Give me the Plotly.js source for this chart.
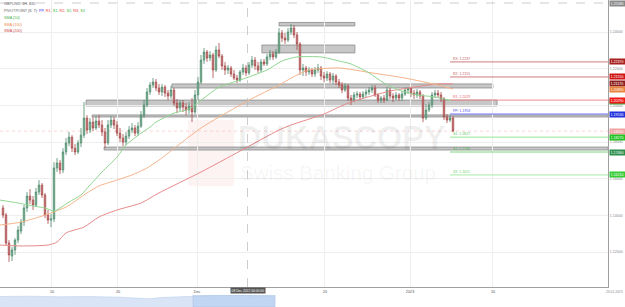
<!DOCTYPE html>
<html><head><meta charset="utf-8">
<script src="https://cdn.plot.ly/plotly-3.0.1.min.js"></script>
<style>html,body{margin:0;padding:0;background:#fff;}#c{width:625px;height:307px;}</style>
</head><body><div id="c"></div>
<script>
// ---- candle data (GBPUSD, bars) ----
const opens=[1.1441,1.1403,1.1250,1.1179,1.1212,1.1266,1.1315,1.1364,1.1441,1.1506,
1.1484,1.1457,1.1528,1.1566,1.1512,1.1403,1.1375,1.1381,1.1659,1.1686,
1.1648,1.1746,1.1795,1.1827,1.1767,1.1746,1.1795,1.1838,1.1931,1.1866,
1.1909,1.1877,1.1915,1.1893,1.1855,1.1795,1.1893,1.1920,1.1893,1.1849,
1.1822,1.1800,1.1833,1.1866,1.1877,1.1849,1.1887,1.1947,1.2002,1.2073,
1.2111,1.2127,1.2095,1.2073,1.2100,1.2067,1.2051,1.2084,1.2013,1.1986,
1.2013,1.1991,1.1975,1.1997,1.1964,1.2057,1.2127,1.2247,1.2291,1.2258,
1.2275,1.2193,1.2302,1.2269,1.2215,1.2193,1.2204,1.2171,1.2149,1.2138,
1.2182,1.2204,1.2177,1.2220,1.2247,1.2215,1.2193,1.2237,1.2226,1.2264,
1.2280,1.2264,1.2291,1.2395,1.2367,1.2356,1.2400,1.2422,1.2384,1.2335,
1.2193,1.2204,1.2182,1.2193,1.2171,1.2193,1.2204,1.2160,1.2149,1.2171,
1.2138,1.2160,1.2127,1.2111,1.2084,1.2106,1.2040,1.2029,1.2057,1.2062,
1.2046,1.2062,1.2073,1.2084,1.2095,1.2057,1.2029,1.2040,1.2029,1.2084,
1.2051,1.2040,1.2057,1.2040,1.2062,1.2084,1.2095,1.2067,1.2057,1.2073,
1.2051,1.1931,1.1975,1.2002,1.2057,1.2067,1.2057,1.2035,1.1937,1.1920,1.1931];
const highs=[1.1457,1.1414,1.1266,1.1228,1.1277,1.1343,1.1381,1.1457,1.1528,1.1544,
1.1506,1.1550,1.1593,1.1577,1.1523,1.1430,1.1408,1.1691,1.1713,1.1702,
1.1767,1.1822,1.1855,1.1838,1.1789,1.1811,1.1877,1.2018,1.1947,1.1931,
1.1937,1.1942,1.1947,1.1920,1.1877,1.1920,1.1942,1.1937,1.1915,1.1877,
1.1844,1.1855,1.1887,1.1904,1.1893,1.1909,1.1969,1.2029,1.2095,1.2127,
1.2149,1.2144,1.2117,1.2117,1.2111,1.2084,1.2106,1.2095,1.2035,1.2029,
1.2029,1.2013,1.2018,1.2040,1.2084,1.2155,1.2275,1.2313,1.2302,1.2296,
1.2286,1.2324,1.2340,1.2280,1.2237,1.2220,1.2215,1.2193,1.2166,1.2193,
1.2226,1.2220,1.2237,1.2269,1.2264,1.2237,1.2253,1.2253,1.2280,1.2302,
1.2296,1.2307,1.2422,1.2411,1.2395,1.2422,1.2444,1.2438,1.2400,1.2345,
1.2226,1.2215,1.2209,1.2204,1.2209,1.2226,1.2215,1.2182,1.2187,1.2182,
1.2177,1.2171,1.2144,1.2127,1.2122,1.2117,1.2057,1.2073,1.2078,1.2073,
1.2078,1.2089,1.2100,1.2111,1.2111,1.2067,1.2051,1.2057,1.2100,1.2095,
1.2067,1.2073,1.2067,1.2078,1.2100,1.2100,1.2100,1.2084,1.2089,1.2084,
1.2062,1.2007,1.2018,1.2073,1.2084,1.2084,1.2073,1.2046,1.1953,1.1947,1.1942];
const lows=[1.1386,1.1239,1.1147,1.1152,1.1185,1.1250,1.1299,1.1343,1.1419,1.1463,
1.1430,1.1446,1.1512,1.1495,1.1386,1.1354,1.1337,1.1364,1.1637,1.1626,
1.1631,1.1729,1.1778,1.1746,1.1729,1.1735,1.1773,1.1822,1.1844,1.1849,
1.1860,1.1866,1.1877,1.1833,1.1767,1.1784,1.1877,1.1871,1.1833,1.1800,
1.1778,1.1784,1.1817,1.1849,1.1833,1.1833,1.1877,1.1931,1.1991,1.2057,
1.2095,1.2078,1.2057,1.2051,1.2046,1.2029,1.2035,1.1997,1.1958,1.1969,
1.1964,1.1947,1.1953,1.1909,1.1953,1.2029,1.2117,1.2226,1.2237,1.2242,
1.2149,1.2182,1.2258,1.2193,1.2166,1.2171,1.2155,1.2138,1.2122,1.2127,
1.2166,1.2160,1.2166,1.2204,1.2193,1.2177,1.2182,1.2215,1.2215,1.2247,
1.2247,1.2253,1.2280,1.2345,1.2335,1.2345,1.2384,1.2367,1.2302,1.2166,
1.2160,1.2160,1.2166,1.2155,1.2155,1.2177,1.2138,1.2127,1.2133,1.2122,
1.2117,1.2111,1.2095,1.2067,1.2073,1.2024,1.2002,1.2018,1.2040,1.2029,
1.2035,1.2046,1.2057,1.2067,1.2046,1.2013,1.2013,1.2013,1.2024,1.2035,
1.2018,1.2029,1.2024,1.2024,1.2051,1.2062,1.2046,1.2035,1.2040,1.2035,
1.1909,1.1920,1.1964,1.1986,1.2040,1.2040,1.2018,1.1920,1.1904,1.1909,1.1855];
const closes=[1.1403,1.1250,1.1185,1.1212,1.1266,1.1321,1.1364,1.1441,1.1506,1.1484,
1.1457,1.1528,1.1566,1.1512,1.1403,1.1375,1.1381,1.1659,1.1686,1.1648,
1.1746,1.1795,1.1827,1.1767,1.1746,1.1795,1.1838,1.1931,1.1866,1.1909,
1.1877,1.1915,1.1893,1.1855,1.1795,1.1893,1.1920,1.1893,1.1849,1.1822,
1.1800,1.1833,1.1866,1.1877,1.1849,1.1887,1.1947,1.2002,1.2073,1.2111,
1.2127,1.2095,1.2073,1.2100,1.2067,1.2051,1.2084,1.2013,1.1986,1.2013,
1.1991,1.1975,1.1997,1.1964,1.2057,1.2127,1.2247,1.2291,1.2258,1.2275,
1.2193,1.2302,1.2269,1.2215,1.2193,1.2204,1.2171,1.2149,1.2138,1.2182,
1.2204,1.2177,1.2220,1.2247,1.2215,1.2193,1.2237,1.2226,1.2264,1.2280,
1.2264,1.2291,1.2395,1.2367,1.2356,1.2400,1.2422,1.2384,1.2335,1.2193,
1.2204,1.2182,1.2193,1.2171,1.2193,1.2204,1.2160,1.2149,1.2171,1.2138,
1.2160,1.2127,1.2111,1.2084,1.2106,1.2040,1.2029,1.2057,1.2062,1.2046,
1.2062,1.2073,1.2084,1.2095,1.2057,1.2029,1.2040,1.2029,1.2084,1.2051,
1.2040,1.2057,1.2040,1.2062,1.2084,1.2095,1.2067,1.2057,1.2073,1.2051,
1.1931,1.1975,1.2002,1.2057,1.2067,1.2057,1.2035,1.1937,1.1920,1.1931,1.1860];

// ---- moving averages (read at sample bars) ----
const sma50Idx=[-1,5,10,14,17,19,22,26,29,33,38,41,46,49,51,57,62,67,72,79,88,93,98,106,112,116,122,127,132,138,144,150];
const sma50Val=[1.1484,1.1468,1.1452,1.1441,1.1424,1.1441,1.1473,1.1512,1.1566,1.1637,1.1718,1.1784,1.1849,1.1882,1.1909,1.1958,1.1980,1.2040,1.2100,1.2138,1.2193,1.2242,1.2264,1.2264,1.2242,1.2226,1.2177,1.2122,1.2084,1.2057,1.2046,1.2024];
const sma100Idx=[-1,6,13,21,28,32,37,43,48,52,66,82,92,98,102,112,123,134,145,150];
const sma100Val=[1.1348,1.1364,1.1397,1.1446,1.1523,1.1561,1.1588,1.1621,1.1659,1.1702,1.1877,1.2029,1.2111,1.2166,1.2193,1.2204,1.2177,1.2149,1.2111,1.2089];
const sma200Idx=[-1,6,15,18,21,27,32,38,46,52,66,79,92,96,107,112,116,129,145,150];
const sma200Val=[1.1239,1.1234,1.1239,1.1255,1.1305,1.1337,1.1392,1.1430,1.1468,1.1523,1.1637,1.1751,1.1866,1.1893,1.1953,1.1991,1.2018,1.2078,1.2117,1.2117];

// ---- pivot points ----
const pivotNames=['R3','R2','R1','PP','S1','S2','S3'];
const pivotVals=[1.2237,1.2155,1.2029,1.1953,1.1827,1.1746,1.1621];
const pivotStart=149;

// ---- support / resistance zones ----
const zoneStart=[92,86.3,56.3,27.7,29.7,33.7];
const zoneEnd=[117.3,117.3,163.3,164.7,201.7,201.7];
const zoneTop=[1.2452,1.2329,1.2117,1.2029,1.1948,1.1773];
const zoneBot=[1.2433,1.2286,1.2095,1.1997,1.1937,1.1757];

// ---- axes ----
const xTickIdx=[16.33,38.33,64.67,107.33,135.67,163.33];
const xTickText=['10','20','Dec','20','2023','10'];
const yTickVals=[1.12,1.14,1.16,1.18,1.20,1.22,1.24];
const crossIdx=81.5, crossPrice=1.2558, crossDate='08 Dec 2022 00:00:00';

// ---- navigator strip ----
const navX=[0,30,60,90,120,140,150,160,180,193,210,240,275];
const navH=[10.5,10.8,10.2,10.4,9.8,9.2,8.2,9.4,10,10.8,11.3,11.4,11];
const navSel=[193,275];

const XR=[-1,201.667], YR=[1.10104,1.25744];
const XD=608/625, YB=20/307;
const idx=opens.map((_,i)=>i);
const FONT='Arial, "Liberation Sans", sans-serif';

const pivotLine={R3:'#cf7b7b',R2:'#cf7b7b',R1:'#f28a8a',PP:'#7070ff',S1:'#93e693',S2:'#7fd67f',S3:'#a6eca6'};
const pivotText={R3:'#c06060',R2:'#c06060',R1:'#e86a6a',PP:'#5050ee',S1:'#5cc85c',S2:'#4caf50',S3:'#6fd36f'};
const pivotBox={R3:'#a82020',R2:'#d01515',R1:'#f01818',PP:'#2233dd',S1:'#22c322',S2:'#2f8f4f',S3:'#35cc35'};

const traces=[
 {type:'scatter',mode:'lines',x:sma200Idx,y:sma200Val,line:{color:'#e88a8a',width:1,shape:'spline',smoothing:0.6},hoverinfo:'skip'},
 {type:'scatter',mode:'lines',x:sma100Idx,y:sma100Val,line:{color:'#f5b48a',width:1,shape:'spline',smoothing:0.6},hoverinfo:'skip'},
 {type:'scatter',mode:'lines',x:sma50Idx,y:sma50Val,line:{color:'#8fd68f',width:1,shape:'spline',smoothing:0.6},hoverinfo:'skip'},
 {type:'candlestick',x:idx,open:opens,high:highs,low:lows,close:closes,whiskerwidth:0,
  increasing:{line:{color:'#4f8c6d',width:0.8},fillcolor:'#86b99e'},
  decreasing:{line:{color:'#a84a4a',width:0.8},fillcolor:'#cc8181'}},
 {type:'scatter',mode:'lines',x:navX,y:navH,xaxis:'x2',yaxis:'y2',fill:'tozeroy',fillcolor:'#d9e5f6',line:{color:'#bcd0ec',width:0.6},hoverinfo:'skip'}
];

const shapes=[];
for(let k=0;k<zoneStart.length;k++){
 shapes.push({type:'rect',xref:'x',yref:'y',x0:zoneStart[k],x1:zoneEnd[k],y0:zoneBot[k],y1:zoneTop[k],
  fillcolor:'rgba(175,175,175,0.7)',line:{color:'#8a8a8a',width:0.8},layer:'below'});
}
pivotNames.forEach((n,k)=>{
 shapes.push({type:'line',xref:'x',yref:'y',x0:pivotStart,x1:XR[1],y0:pivotVals[k],y1:pivotVals[k],line:{color:pivotLine[n],width:1}});
});
const last=closes[closes.length-1];
shapes.push({type:'line',xref:'x',yref:'y',x0:XR[0],x1:XR[1],y0:last,y1:last,line:{color:'#f7c9c9',width:0.8,dash:'dot'},layer:'below'});
shapes.push({type:'line',xref:'x',yref:'y',x0:crossIdx,x1:crossIdx,y0:YR[0],y1:YR[1],line:{color:'#b8b8b8',width:0.7,dash:'dash'}});
shapes.push({type:'line',xref:'x',yref:'y',x0:XR[0],x1:XR[1],y0:crossPrice,y1:crossPrice,line:{color:'#b8b8b8',width:0.7,dash:'dash'}});
shapes.push({type:'rect',xref:'x2',yref:'y2',x0:navSel[0],x1:navSel[1],y0:0,y1:12,fillcolor:'rgba(150,185,235,0.35)',line:{color:'#aec4e6',width:0.6}});
// watermark logo block
shapes.push({type:'rect',xref:'paper',yref:'paper',x0:188/625,x1:234/625,y0:1-186/307,y1:1-120/307,fillcolor:'rgba(235,80,80,0.07)',line:{width:0},layer:'below'});

const ann=[];
const A=(o)=>ann.push(Object.assign({showarrow:false,font:{family:FONT,size:3.8,color:'#666'}},o));
// watermark
A({xref:'paper',yref:'paper',x:236/625,y:1-138/307,xanchor:'left',text:'<b>DUKASCOPY</b>',font:{family:FONT,size:32.5,color:'rgba(0,0,0,0.06)'}});
A({xref:'paper',yref:'paper',x:238/625,y:1-172/307,xanchor:'left',text:'Swiss Banking Group',font:{family:FONT,size:20.5,color:'rgba(0,0,0,0.055)'}});
// legend
const L=(y,t)=>A({xref:'paper',yref:'paper',x:2/625,y:1-y/307,xanchor:'left',yanchor:'middle',text:t});
L(3.5,'GBPUSD, 4H, BID');
L(11,'PIVOTPOINT (8, 7): <span style="color:#3d3dff">PP</span>, <span style="color:#ee3333">R1</span>, <span style="color:#33bb33">S1</span>, <span style="color:#ee3333">R2</span>, <span style="color:#33bb33">S2</span>, <span style="color:#ee3333">R3</span>, <span style="color:#33bb33">S3</span>');
L(18,'<span style="color:#4caf50">SMA (50)</span>');
L(24.5,'<span style="color:#f08a4b">SMA (100)</span>');
L(31,'<span style="color:#d04a4a">SMA (200)</span>');
// pivot labels
pivotNames.forEach((n,k)=>A({xref:'x',yref:'y',x:pivotStart,y:pivotVals[k],xanchor:'left',yanchor:'bottom',xshift:1,yshift:-1,
 text:n+': '+pivotVals[k].toFixed(4),font:{family:FONT,size:3.5,color:pivotText[n]}}));
// right axis value boxes
const R=(v,c)=>A({xref:'paper',yref:'y',x:XD,y:v,xanchor:'left',yanchor:'middle',xshift:1,text:v.toFixed(5),
 bgcolor:c,borderpad:0.6,width:15,align:'left',font:{family:FONT,size:3.6,color:'#fff'}});
R(sma50Val[sma50Val.length-1],'#3fae3f');
R(crossPrice,'#8a8a8a');
R(pivotVals[0],pivotBox.R3);
R(pivotVals[1],pivotBox.R2);
R(sma200Val[sma200Val.length-1],'#8e1f1f');
R(sma100Val[sma100Val.length-1],'#e8823c');
R(pivotVals[2],pivotBox.R1);
R(pivotVals[3],pivotBox.PP);
R(last,'#f0a2a2');
R(pivotVals[4],pivotBox.S1);
R(pivotVals[5],pivotBox.S2);
R(pivotVals[6],pivotBox.S3);
// crosshair date tag
A({xref:'x',yref:'paper',x:crossIdx,y:YB,yanchor:'top',yshift:0,text:crossDate,bgcolor:'#555',borderpad:0.6,font:{family:FONT,size:3.3,color:'#fff'}});
A({xref:'paper',yref:'paper',x:1,y:YB,xanchor:'right',yanchor:'top',yshift:-1,text:'23.01.2023',font:{family:FONT,size:3.3,color:'#888'}});

const layout={
 width:625,height:307,margin:{l:0,r:0,t:0,b:0},paper_bgcolor:'#fff',plot_bgcolor:'#fff',showlegend:false,
 font:{family:FONT},
 xaxis:{domain:[0,XD],range:XR,rangeslider:{visible:false},tickvals:xTickIdx,ticktext:xTickText,
  tickfont:{family:FONT,size:3.8,color:'#555'},showgrid:true,gridcolor:'#eeeeee',gridwidth:1,zeroline:false,
  showline:true,linecolor:'#a0a0a0',linewidth:1,ticks:'',fixedrange:true},
 yaxis:{domain:[YB,1],range:YR,side:'right',tickvals:yTickVals,ticktext:yTickVals.map(v=>v.toFixed(5)),
  tickfont:{family:FONT,size:3.6,color:'#888'},showgrid:true,gridcolor:'#eeeeee',gridwidth:1,zeroline:false,
  showline:true,linecolor:'#a0a0a0',linewidth:1,ticks:'',fixedrange:true},
 xaxis2:{domain:[0,1],range:[0,625],anchor:'y2',showgrid:false,zeroline:false,showticklabels:false,ticks:'',showline:false},
 yaxis2:{domain:[0,12/307],range:[0,12],anchor:'x2',showgrid:false,zeroline:false,showticklabels:false,ticks:'',showline:false},
 shapes:shapes,annotations:ann
};
Plotly.newPlot('c',traces,layout,{staticPlot:true,displayModeBar:false});
</script></body></html>
